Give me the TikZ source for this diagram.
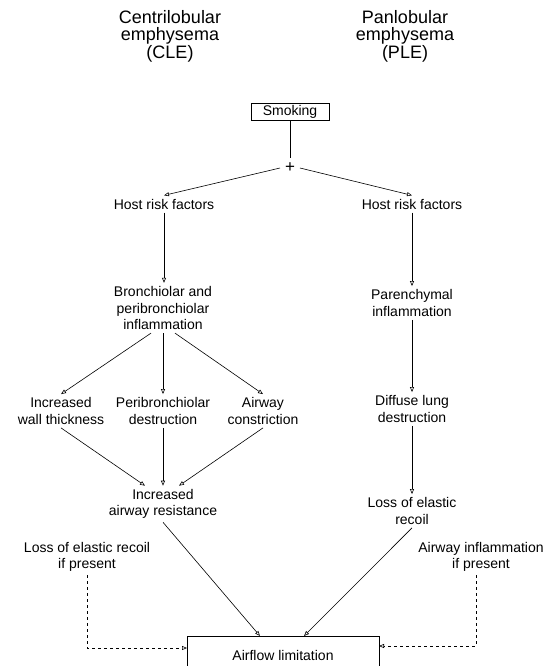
\documentclass[tikz,border=0pt]{standalone}
\usepackage{fontspec}
\setmainfont{Liberation Sans}
\usetikzlibrary{arrows.meta}
\begin{document}
\begin{tikzpicture}[x=1pt,y=-1pt,
 lbl/.style={align=center, font=\fontsize{14}{16.5}\selectfont, inner sep=1pt, outer sep=2.5pt},
 ttl/.style={align=center, font=\fontsize{18}{17.5}\selectfont},
 box/.style={draw, line width=0.7pt},
 ln/.style={line width=0.6pt},
 arr/.style={ln, -{Triangle[open,length=5pt,width=4pt]}},
 darr/.style={arr, dash pattern=on 3pt off 3pt}]
\useasboundingbox (0,0) rectangle (552,666);
\clip (0,0) rectangle (552,666);
% titles
\node[ttl] (cle) at (170,36) {Centrilobular\\emphysema\\(CLE)};
\node[ttl] (ple) at (405,36) {Panlobular\\emphysema\\(PLE)};
% nodes
\node[lbl, box, minimum width=78pt, minimum height=17pt, outer sep=0pt] (smk) at (290,112) {Smoking};
\node[lbl, font=\fontsize{17}{18}\selectfont, outer sep=4pt] (plus) at (290,168) {+};
\node[lbl] (hl) at (164,204) {Host risk factors};
\node[lbl] (hr) at (412,204) {Host risk factors};
\node[lbl] (bi) at (163,308) {Bronchiolar and\\peribronchiolar\\inflammation};
\node[lbl] (pi) at (412,303) {Parenchymal\\inflammation};
\node[lbl] (wt) at (61,411) {Increased\\wall thickness};
\node[lbl] (pd) at (163,411) {Peribronchiolar\\destruction};
\node[lbl] (ac) at (263,411) {Airway\\constriction};
\node[lbl] (dl) at (412,409) {Diffuse lung\\destruction};
\node[lbl] (ar) at (163,504) {Increased\\airway resistance};
\node[lbl] (le) at (412,511) {Loss of elastic\\recoil};
\node[lbl] (lp) at (87,557) {Loss of elastic recoil\\if present};
\node[lbl] (ai) at (481,557) {Airway inflammation\\if present};
\node[lbl, box, minimum width=192pt, minimum height=38pt, outer sep=0pt] (af) at (283,655) {Airflow limitation};
% connectors
\draw[ln] (smk) -- (plus);
\draw[arr] (plus.west) -- (hl.north);
\draw[arr] (plus.east) -- (hr.north);
\draw[arr] (hl) -- (hl |- bi.north);
\draw[arr] (hr) -- (pi);
\draw[arr] ([xshift=-12pt]bi.south) -- (wt.north);
\draw[arr] (bi.south) -- (pd.north);
\draw[arr] ([xshift=12pt]bi.south) -- (ac.north);
\draw[arr] (wt.south) -- ([xshift=-18pt]ar.north);
\draw[arr] (pd.south) -- (ar.north);
\draw[arr] (ac.south) -- ([xshift=16pt]ar.north);
\draw[arr] (pi) -- (dl);
\draw[arr] (dl) -- (le);
\draw[arr] (ar.south) -- ([xshift=-23pt]af.north);
\draw[arr] (le.south) -- ([xshift=21pt]af.north);
\draw[darr] (lp.south) |- ([yshift=7pt]af.west);
\draw[darr] ([xshift=-5pt]ai.south) |- ([yshift=9pt]af.east);
\end{tikzpicture}
\end{document}
